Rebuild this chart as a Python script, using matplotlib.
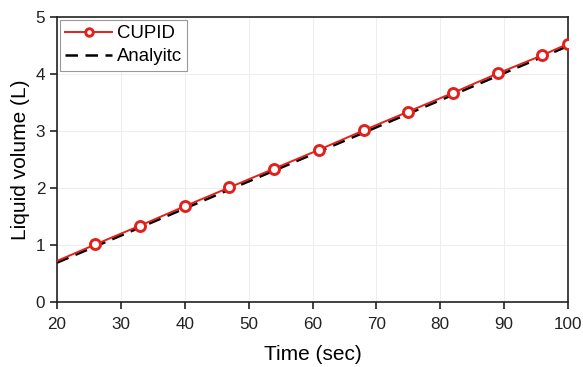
import matplotlib
matplotlib.use('Agg')
import matplotlib.pyplot as plt

plt.rcParams['font.family'] = ['Liberation Sans', 'DejaVu Sans']

# CUPID simulation (first point is the line start, no marker)
cupid_t = [20, 26, 33, 40, 47, 54, 61, 68, 75, 82, 89, 96, 100]
cupid_v = [0.72, 1.01, 1.34, 1.68, 2.01, 2.34, 2.67, 3.01, 3.34, 3.67, 4.01, 4.33, 4.53]
# analytical solution
ana_t = [20, 100]
ana_v = [0.69, 4.49]

fig = plt.figure(figsize=(5.83, 3.67), dpi=100)
ax = fig.add_axes([57/583, 1 - 302/367, (568-57)/583, (302-17)/367])

ax.plot(cupid_t, cupid_v, color='#e3201b', lw=1.4, marker='o', ms=7.2, mfc='white',
        mec='#e3201b', mew=2.1, markevery=slice(1, None), label='CUPID', zorder=3)
ax.plot(ana_t, ana_v, color='black', lw=1.8, ls=(0, (5, 3)), label='Analyitc', zorder=2)

ax.set_xlim(20, 100); ax.set_ylim(0, 5)
ax.set_xticks(range(20, 101, 10)); ax.set_yticks(range(0, 6))
ax.grid(color='#eeeeee', lw=0.8)
ax.set_axisbelow(True)
for sp in ax.spines.values():
    sp.set_linewidth(1.2); sp.set_color('#222222')
ax.tick_params(direction='out', length=5, width=1.2, labelsize=12.3, colors='#222222')
ax.tick_params(axis='x', pad=6)
ax.set_xlabel('Time (sec)', fontsize=15, labelpad=9)
ax.set_ylabel('Liquid volume (L)', fontsize=15, labelpad=4)

leg = ax.legend(loc='upper left', fontsize=13.4, fancybox=False, edgecolor='#999999',
                borderpad=0.3, handlelength=2.5, handletextpad=0.25, labelspacing=0.3,
                borderaxespad=0.15, framealpha=1, markerscale=0.75)
leg.get_frame().set_linewidth(0.8)

fig.savefig('out.png', dpi=100)
